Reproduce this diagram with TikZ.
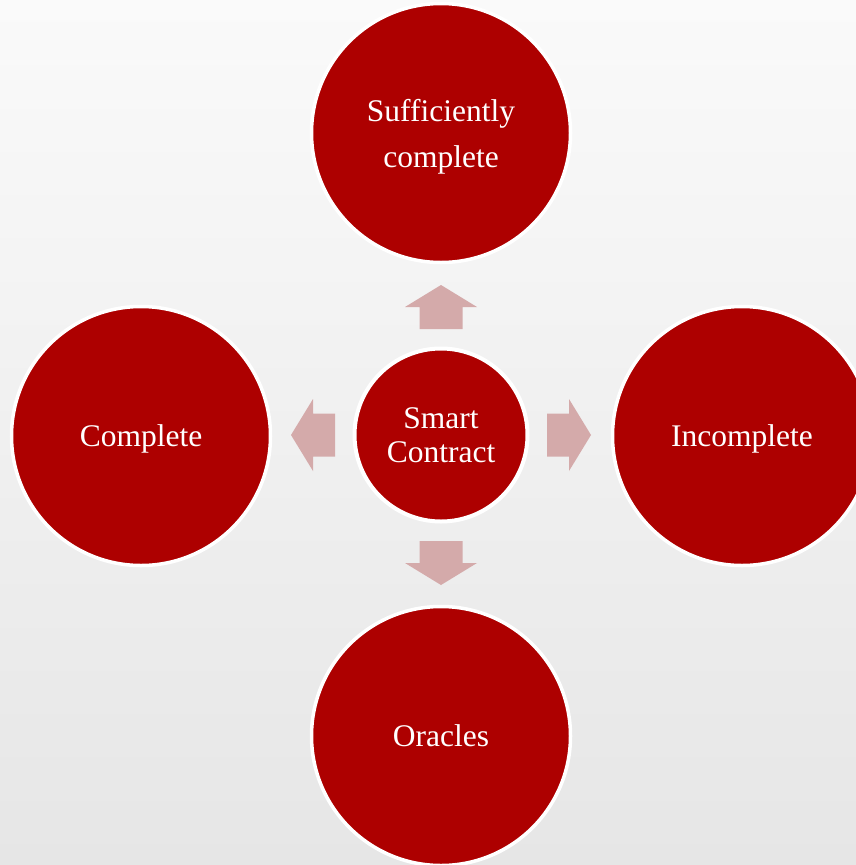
\documentclass[tikz,border=0pt]{standalone}
\usepackage{fontspec}
\setmainfont{Liberation Serif}
\definecolor{bubred}{RGB}{173,0,0}
\definecolor{arrowpink}{RGB}{212,170,170}
\definecolor{bgtop}{RGB}{250,250,250}
\definecolor{bgbot}{RGB}{230,230,230}
\tikzset{
  bubble/.style={circle, fill=bubred, draw=white, line width=3.5pt, inner sep=0pt,
    minimum size=259pt, text=white, align=center, text depth=0pt,
    font=\fontsize{31.5}{46}\selectfont},
  hub/.style={bubble, line width=4pt, minimum size=173pt,
    font=\fontsize{31.5}{34}\selectfont},
  blockarrow/.style={fill=arrowpink, draw=none}
}
\begin{document}
\begin{tikzpicture}[x=1pt, y=-1pt]
  \shade[top color=bgtop, bottom color=bgbot] (0,0) rectangle (856,865);
  \useasboundingbox (0,0) rectangle (856,865);
  \node[hub] (sc) at (441,435) {Smart\\Contract};
  \node[bubble] (suff) at (441,133) {Sufficiently\\complete};
  \node[bubble] (comp) at (141,436) {Complete};
  \node[bubble] (incomp) at (742,436) {Incomplete};
  \node[bubble] (orac) at (441,736) {Oracles};
  \foreach \ang in {0,90,180,270}{
    \begin{scope}[shift={(sc.center)}, rotate=\ang]
      \fill[blockarrow] (106,-21.5) -- (128,-21.5) -- (128,-36) -- (150,0)
        -- (128,36) -- (128,21.5) -- (106,21.5) -- cycle;
    \end{scope}
  }
\end{tikzpicture}
\end{document}
